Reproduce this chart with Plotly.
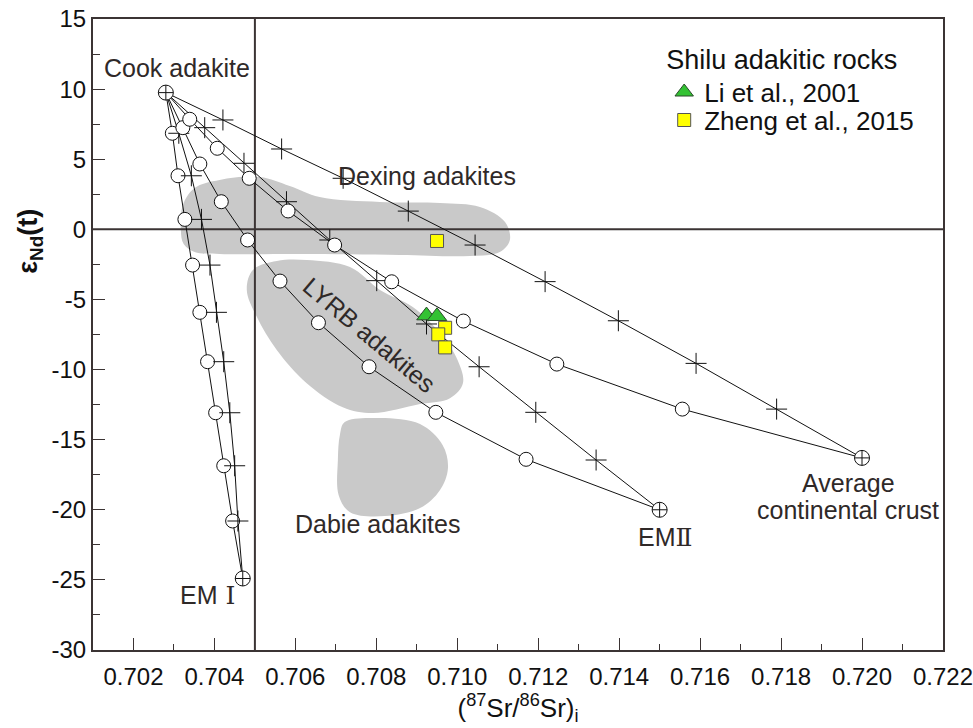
import plotly.graph_objects as go

# ---------------- data ----------------
cook_sr, cook_nd = 0.7028, 9.75
em1_sr, em1_nd = 0.7047, -24.9
em2_sr, em2_nd = 0.7150, -20.0
acc_sr, acc_nd = 0.7200, -16.3

em1_circ_sr = [0.70296, 0.70310, 0.70327, 0.70346, 0.70364, 0.70383, 0.70403, 0.70423, 0.70445]
em1_circ_nd = [6.85, 3.82, 0.71, -2.55, -5.92, -9.44, -13.08, -16.86, -20.8]
em1_plus_sr = [0.70312, 0.70343, 0.70368, 0.70389, 0.70405, 0.70423, 0.70438, 0.70450, 0.70458]
em1_plus_nd = [6.85, 3.82, 0.71, -2.55, -5.92, -9.44, -13.08, -16.86, -20.8]

em2_circ_sr = [0.70322, 0.70364, 0.70417, 0.70482, 0.70562, 0.70657, 0.70782, 0.70947, 0.71170]
em2_circ_nd = [7.25, 4.66, 1.97, -0.76, -3.69, -6.66, -9.8, -13.05, -16.4]
em2_plus_sr = [0.70376, 0.70473, 0.70578, 0.70685, 0.70801, 0.70924, 0.71054, 0.71194, 0.71343]
em2_plus_nd = [7.25, 4.71, 1.97, -0.76, -3.66, -6.75, -9.8, -13.05, -16.45]

acc_circ_sr = [0.70339, 0.70407, 0.70486, 0.70582, 0.70697, 0.70838, 0.71015, 0.71246, 0.71556]
acc_circ_nd = [7.85, 5.78, 3.64, 1.31, -1.12, -3.74, -6.54, -9.61, -12.82]
acc_plus_sr = [0.70421, 0.70566, 0.70718, 0.70879, 0.71044, 0.71217, 0.71398, 0.71590, 0.71789]
acc_plus_nd = [7.8, 5.73, 3.64, 1.3, -1.12, -3.73, -6.52, -9.56, -12.82]

li2001_sr = [0.70924, 0.70950]
li2001_nd = [-6.15, -6.2]
zheng2015_sr = [0.70950, 0.70970, 0.70953, 0.70970]
zheng2015_nd = [-0.83, -7.02, -7.49, -8.42]

dexing_sr = [0.70317, 0.70322, 0.70351, 0.70413, 0.70512, 0.70586, 0.70660, 0.70809, 0.70957,
             0.71056, 0.71118, 0.71130, 0.71105, 0.71031, 0.70858, 0.70611, 0.70413, 0.70351, 0.70324]
dexing_nd = [-0.05, 1.73, 2.95, 3.52, 3.73, 3.09, 2.30, 1.95, 1.88,
             1.59, 0.52, -0.76, -1.62, -1.90, -1.83, -1.76, -1.76, -1.62, -1.05]
lyrb_sr = [0.70495, 0.70554, 0.70628, 0.70735, 0.70809, 0.70890, 0.70957, 0.71001, 0.71014,
           0.70982, 0.70908, 0.70791, 0.70717, 0.70628, 0.70554, 0.70505, 0.70480]
lyrb_nd = [-2.90, -2.26, -2.19, -2.69, -4.33, -5.54, -7.40, -9.33, -10.97,
           -12.04, -12.46, -13.10, -12.68, -10.97, -8.61, -6.26, -4.33]
dabie_sr = [0.70722, 0.70809, 0.70908, 0.70964, 0.70977, 0.70957, 0.70908, 0.70821, 0.70735,
            0.70707, 0.70705, 0.70710]
dabie_nd = [-13.74, -13.46, -13.89, -15.39, -17.03, -18.60, -19.88, -20.45, -20.17,
            -18.96, -16.46, -14.67]

ref_sr = 0.705
ref_nd = 0.0
x_range = [0.701, 0.722001]
y_range = [-30, 15]
x_ticks = [0.702, 0.704, 0.706, 0.708, 0.710, 0.712, 0.714, 0.716, 0.718, 0.720, 0.722]
y_ticks = [-30, -25, -20, -15, -10, -5, 0, 5, 10, 15]

# ---------------- style ----------------
FONT = "Liberation Sans, Arial, sans-serif"
TXT = "#2f2928"
LINE = "#3b3434"
GRAY = "#c9c9c9"

fig = go.Figure()

# gray fields
for sr, nd in [(dexing_sr, dexing_nd), (lyrb_sr, lyrb_nd), (dabie_sr, dabie_nd)]:
    fig.add_trace(go.Scatter(x=sr + sr[:1], y=nd + nd[:1], mode="lines", fill="toself",
                             fillcolor=GRAY, line=dict(color=GRAY, width=0, shape="spline", smoothing=1.0),
                             hoverinfo="skip", showlegend=False))

# reference cross lines
fig.add_trace(go.Scatter(x=[ref_sr, ref_sr], y=y_range, mode="lines",
                         line=dict(color=LINE, width=2), showlegend=False, hoverinfo="skip"))
fig.add_trace(go.Scatter(x=x_range, y=[ref_nd, ref_nd], mode="lines",
                         line=dict(color=LINE, width=2), showlegend=False, hoverinfo="skip"))

# mixing curves
curves = [
    (em1_circ_sr, em1_circ_nd, em1_sr, em1_nd, "circle"),
    (em1_plus_sr, em1_plus_nd, em1_sr, em1_nd, "cross"),
    (em2_circ_sr, em2_circ_nd, em2_sr, em2_nd, "circle"),
    (em2_plus_sr, em2_plus_nd, em2_sr, em2_nd, "cross"),
    (acc_circ_sr, acc_circ_nd, acc_sr, acc_nd, "circle"),
    (acc_plus_sr, acc_plus_nd, acc_sr, acc_nd, "cross"),
]
for sr, nd, esr, end, kind in curves:
    fig.add_trace(go.Scatter(x=[cook_sr] + sr + [esr], y=[cook_nd] + nd + [end], mode="lines",
                             line=dict(color="#111", width=1), showlegend=False, hoverinfo="skip"))
for sr, nd, esr, end, kind in curves:
    if kind == "circle":
        mk = dict(symbol="circle", size=14, color="white", line=dict(color="#111", width=1))
    else:
        mk = dict(symbol="cross-thin", size=15, color="#111", line=dict(color="#111", width=1))
    fig.add_trace(go.Scatter(x=sr, y=nd, mode="markers", marker=mk, showlegend=False))

# end members
fig.add_trace(go.Scatter(x=[cook_sr, em1_sr, em2_sr, acc_sr], y=[cook_nd, em1_nd, em2_nd, acc_nd],
                         mode="markers", showlegend=False,
                         marker=dict(symbol="circle-cross", size=15, color="white",
                                     line=dict(color="#111", width=1))))

# samples
fig.add_trace(go.Scatter(x=li2001_sr, y=li2001_nd, mode="markers", name="Li et al., 2001",
                         legend="legend",
                         marker=dict(symbol="triangle-up", size=17, color="#33c233",
                                     line=dict(color="#2a4a2a", width=1))))
fig.add_trace(go.Scatter(x=zheng2015_sr, y=zheng2015_nd, mode="markers", name="Zheng et al., 2015",
                         legend="legend2",
                         marker=dict(symbol="square", size=13, color="#ffff00",
                                     line=dict(color="#555", width=1))))

ann = [
    dict(x=0.70307, y=11.5, text="Cook adakite"),
    dict(x=0.70925, y=3.8, text="Dexing adakites"),
    dict(x=0.70784, y=-7.5, text="LYRB adakites", textangle=40),
    dict(x=0.70802, y=-21.0, text="Dabie adakites"),
    dict(x=0.70382, y=-26.1, text="EM<span style='font-family:DejaVu Serif'> Ⅰ</span>"),
    dict(x=0.71514, y=-21.95, text="EM<span style='font-family:DejaVu Serif'>Ⅱ</span>"),
    dict(x=0.71966, y=-18.1, text="Average"),
    dict(x=0.71966, y=-20.0, text="continental crust"),
]
annotations = []
for a in ann:
    d = dict(xref="x", yref="y", showarrow=False, font=dict(family=FONT, size=25, color=TXT))
    d.update(a)
    annotations.append(d)
annotations.append(dict(xref="paper", yref="paper", x=-0.074, y=0.647, xanchor="center", yanchor="middle",
                        showarrow=False, text="<b>ε<sub>Nd</sub>(t)</b>", textangle=-90,
                        font=dict(family=FONT, size=27, color="#111")))

leg_common = dict(xanchor="left", yanchor="top", bgcolor="rgba(0,0,0,0)",
                  font=dict(family=FONT, size=26, color="#111"))
fig.update_layout(
    width=973, height=728,
    margin=dict(l=93, r=30, t=19, b=78),
    plot_bgcolor="white", paper_bgcolor="white",
    font=dict(family=FONT, size=22, color="#111"),
    annotations=annotations,
    legend=dict(x=0.672, y=0.977,
                title=dict(text="Shilu adakitic rocks", font=dict(family=FONT, size=27, color="#111")),
                **leg_common),
    legend2=dict(x=0.672, y=0.877, **leg_common),
    xaxis=dict(range=x_range, tickvals=x_ticks, ticktext=[f"{v:.3f}" for v in x_ticks],
               ticks="inside", ticklen=12, tickwidth=1, tickcolor=LINE, automargin=False,
               ticklabelstandoff=4,
               minor=dict(ticks="inside", ticklen=6, dtick=0.001, tick0=0.701, tickcolor=LINE),
               showline=True, linecolor=LINE, linewidth=2, mirror=True, showgrid=False, zeroline=False,
               tickfont=dict(family=FONT, size=24, color="#111"),
               title=dict(text="(<sup>87</sup>Sr/<sup>86</sup>Sr)<sub>i</sub>",
                          font=dict(family=FONT, size=26, color="#111"), standoff=6)),
    yaxis=dict(range=y_range, tickvals=y_ticks, ticktext=[str(v) for v in y_ticks],
               ticks="inside", ticklen=12, tickwidth=1, tickcolor=LINE, automargin=False,
               minor=dict(ticks="inside", ticklen=7, dtick=2.5, tick0=0, tickcolor=LINE),
               showline=True, linecolor=LINE, linewidth=2, mirror=True, showgrid=False, zeroline=False,
               tickfont=dict(family=FONT, size=24, color="#111")),
)

fig.write_html("out.html")
